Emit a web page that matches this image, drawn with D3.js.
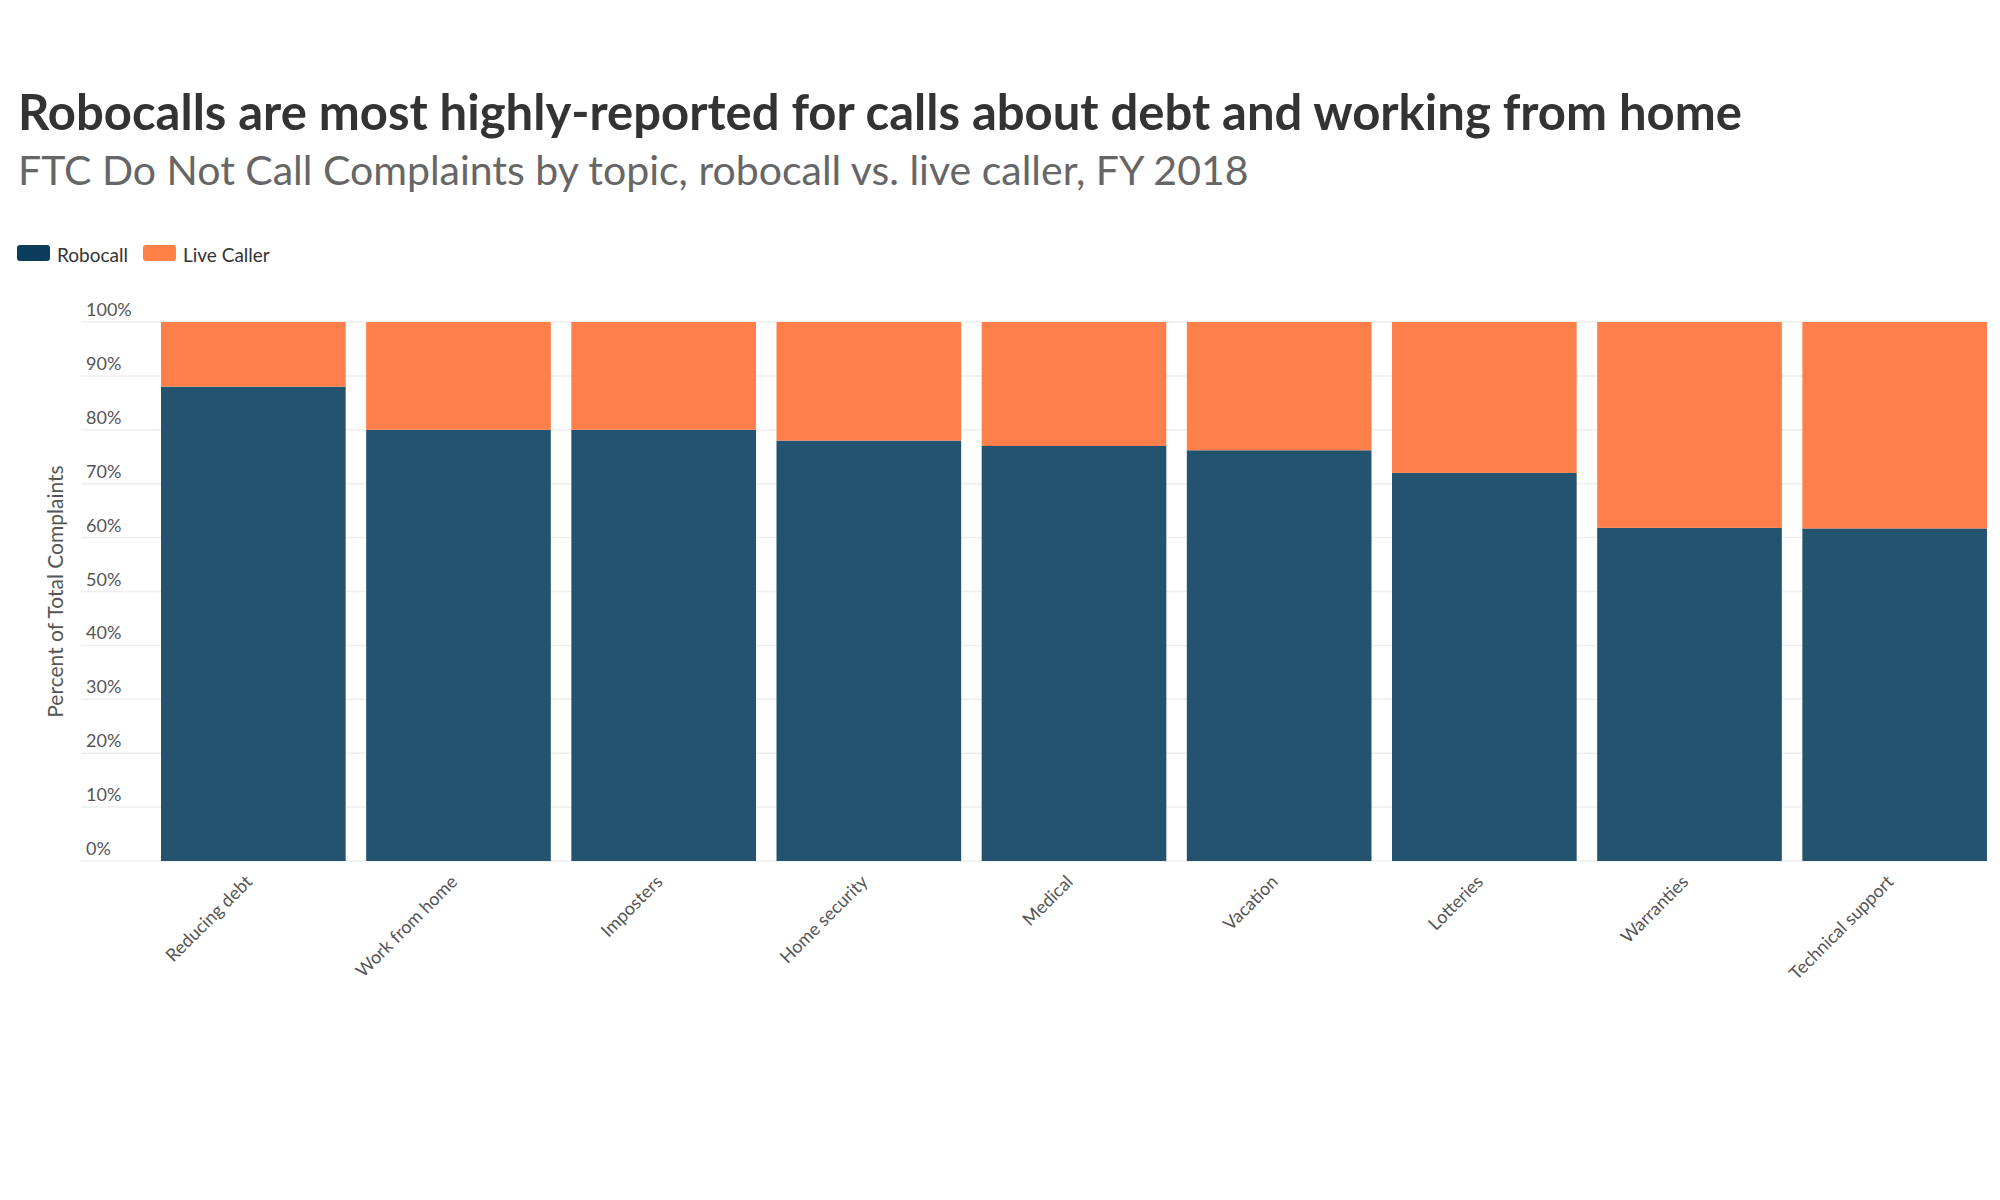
<!DOCTYPE html>
<html><head><meta charset="utf-8">
<script src="https://cdn.jsdelivr.net/npm/d3@7"></script>
<style>body{margin:0;background:#fff;font-family:"Source Sans Pro",Lato,sans-serif}</style>
</head><body>
<svg id="c" width="2000" height="1200"></svg>
<script>
// data
const topics = ["Reducing debt","Work from home","Imposters","Home security","Medical","Vacation","Lotteries","Warranties","Technical support"];
const robocall = [88, 80, 80, 78, 77, 76.2, 72, 61.8, 61.7];
const liveCaller = robocall.map(v => 100 - v);
const yTicks = [0,10,20,30,40,50,60,70,80,90,100];

const svg = d3.select("#c");
const m = {top: 322, left: 161, right: 13, bottom: 339};
const W = 2000, H = 1200;

svg.append("text").attr("x", 18).attr("y", 130).attr("font-size", 49).attr("font-weight", 700)
  .attr("fill", "#333").text("Robocalls are most highly-reported for calls about debt and working from home");
svg.append("text").attr("x", 18).attr("y", 185).attr("font-size", 41).attr("fill", "#666")
  .text("FTC Do Not Call Complaints by topic, robocall vs. live caller, FY 2018");

// legend
const leg = [["Robocall", "#0b3d5c"], ["Live Caller", "#ff7f45"]];
let lx = 17;
leg.forEach(([name, col]) => {
  svg.append("rect").attr("x", lx).attr("y", 245).attr("width", 33).attr("height", 16).attr("rx", 3).attr("fill", col);
  const t = svg.append("text").attr("x", lx + 40).attr("y", 262).attr("font-size", 19).attr("fill", "#333").text(name);
  lx += 40 + t.node().getComputedTextLength() + 15;
});

const x = d3.scaleBand().domain(topics).range([m.left, W - m.right]).paddingInner(0.1);
const y = d3.scaleLinear().domain([0, 100]).range([H - m.bottom, m.top]);

// gridlines + tick labels
const g = svg.append("g");
yTicks.forEach(t => {
  g.append("line").attr("x1", 81).attr("x2", W - m.right).attr("y1", y(t)).attr("y2", y(t))
    .attr("stroke", "#eee").attr("stroke-width", 1.5);
  g.append("text").attr("x", 86).attr("y", y(t) - 6).attr("font-size", 18).attr("fill", "#555").text(t + "%");
});

svg.append("text").attr("transform", `translate(63,${y(50)}) rotate(-90)`).attr("text-anchor", "middle")
  .attr("font-size", 21).attr("fill", "#555").text("Percent of Total Complaints");

const stack = d3.stack().keys(["r", "l"])(topics.map((t, i) => ({t, r: robocall[i], l: liveCaller[i]})));
const cols = ["#24536f", "#ff7f4a"];
svg.selectAll("g.s").data(stack).join("g").attr("fill", (d, i) => cols[i])
  .selectAll("rect").data(d => d).join("rect")
  .attr("x", d => x(d.data.t)).attr("width", x.bandwidth())
  .attr("y", d => y(d[1])).attr("height", d => y(d[0]) - y(d[1]));

// x labels
svg.selectAll("text.xl").data(topics).join("text")
  .attr("transform", d => `translate(${x(d) + x.bandwidth() / 2},${H - m.bottom + 22}) rotate(-45)`)
  .attr("text-anchor", "end").attr("font-size", 18).attr("fill", "#555").text(d => d);
</script>
</body></html>
